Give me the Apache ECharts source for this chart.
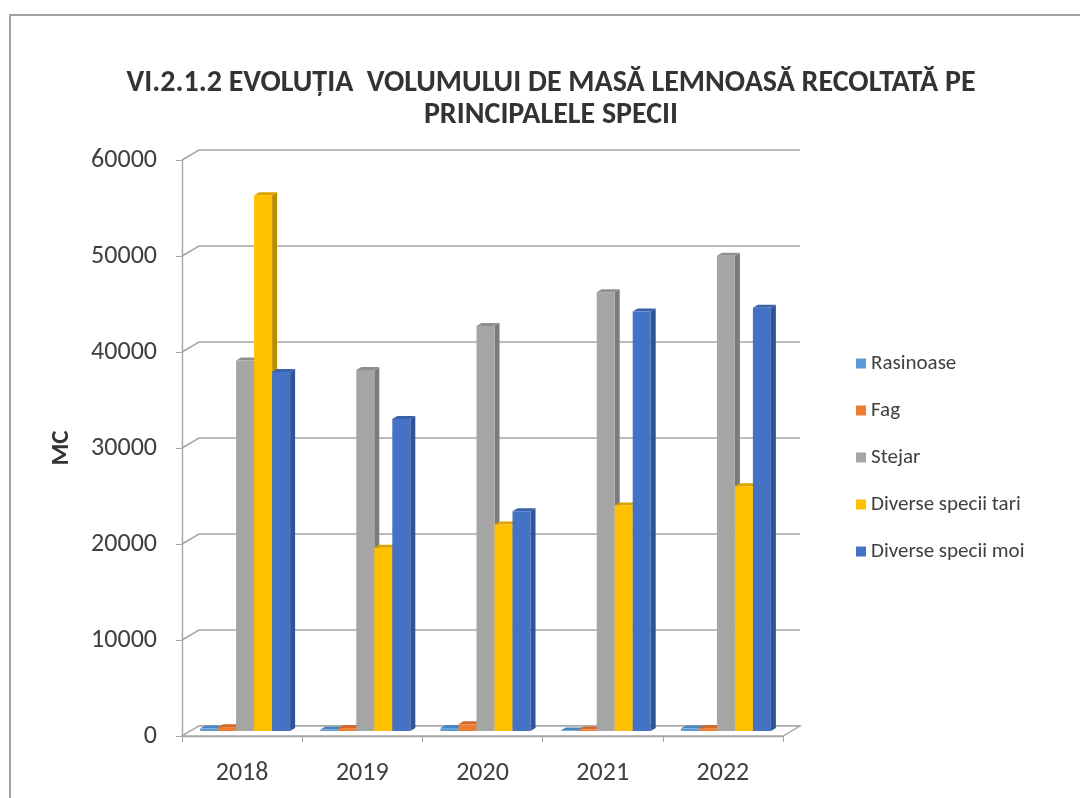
<!DOCTYPE html>
<html>
<head>
<meta charset="utf-8">
<script src="https://cdn.jsdelivr.net/npm/echarts@6/dist/echarts.min.js"></script>
<style>
  html, body { margin: 0; padding: 0; background: #fff; }
  #chart { width: 1080px; height: 798px; }
</style>
</head>
<body>
<div id="chart"></div>
<script>
// date (mc)
var categories = ['2018', '2019', '2020', '2021', '2022'];
var seriesNames = ['Rasinoase', 'Fag', 'Stejar', 'Diverse specii tari', 'Diverse specii moi'];
var rasinoase = [250, 150, 300, 50, 250];
var fag = [400, 300, 700, 150, 300];
var stejar = [38600, 37600, 42200, 45700, 49500];
var speciiTari = [55800, 19100, 21500, 23500, 25500];
var speciiMoi = [37400, 32500, 22900, 43700, 44100];
var yTicks = [0, 10000, 20000, 30000, 40000, 50000, 60000];

var culori = ['#5B9BD5', '#ED7D31', '#A5A5A5', '#FFC000', '#4472C4'];
var laterale = ['#41719C', '#AE5A21', '#7B7B7B', '#BC8C00', '#2F5597'];
var capace = ['#4A86BE', '#D0692A', '#8F8F8F', '#D9A400', '#3A62AA'];

var font = 'Carlito, Lato, "Open Sans", sans-serif';
var depthX = 17, depthY = 10;

var myChart = echarts.init(document.getElementById('chart'));

// bara "3D": fata, lateral si capac
function barRender(s) {
    return function (params, api) {
        var i = api.value(0), v = api.value(1);
        var base = api.coord([i, 0]);
        var top = api.coord([i, v]);
        var w = 18, d = 5, e = 3;
        var x0 = base[0] - 5 * w / 2 + s * w + 3;
        var yb = base[1] - 5, yt = top[1] - 5;
        return {
            type: 'group',
            children: [
                { type: 'polygon', shape: { points: [[x0 + w, yt], [x0 + w + d, yt - e], [x0 + w + d, yb - e], [x0 + w, yb]] }, style: { fill: laterale[s] } },
                { type: 'polygon', shape: { points: [[x0, yt], [x0 + w, yt], [x0 + w + d, yt - e], [x0 + d, yt - e]] }, style: { fill: capace[s] } },
                { type: 'rect', shape: { x: x0, y: yt, width: w, height: yb - yt }, style: { fill: culori[s] } }
            ]
        };
    };
}

// liniile de grila pe peretele din spate + podeaua
function gridRender(params, api) {
    var v = api.value(1);
    var band = api.size([1, 0])[0];
    var p0 = api.coord([0, v]);
    var p4 = api.coord([categories.length - 1, v]);
    var left = p0[0] - band / 2, right = p4[0] + band / 2, y = p0[1];
    var children = [{
        type: 'polyline',
        shape: { points: [[left, y], [left + depthX, y - depthY], [right + depthX, y - depthY]] },
        style: { stroke: '#a6a6a6', lineWidth: 1.6, fill: null }
    }];
    if (v === 0) {
        children.push({
            type: 'polygon',
            shape: { points: [[left, y], [right, y], [right + depthX, y - depthY], [left + depthX, y - depthY]] },
            style: { stroke: '#a6a6a6', lineWidth: 1.4, fill: '#fff' }
        });
    }
    return { type: 'group', children: children };
}

var valori = [rasinoase, fag, stejar, speciiTari, speciiMoi];
var series = [{
    name: 'grila',
    type: 'custom',
    silent: true,
    z: 1,
    renderItem: gridRender,
    data: yTicks.map(function (t) { return [0, t]; }),
    encode: { x: 0, y: 1 }
}];
valori.forEach(function (arr, s) {
    series.push({
        name: seriesNames[s],
        type: 'custom',
        z: 3,
        itemStyle: { color: culori[s] },
        renderItem: barRender(s),
        data: arr.map(function (v, i) { return [i, v]; }),
        encode: { x: 0, y: 1 }
    });
});

var option = {
    animation: false,
    backgroundColor: '#fff',
    title: {
        text: 'VI.2.1.2 EVOLUȚIA  VOLUMULUI DE MASĂ LEMNOASĂ RECOLTATĂ PE\nPRINCIPALELE SPECII',
        left: 546,
        top: 62,
        textAlign: 'center',
        textStyle: { fontFamily: font, fontSize: 30, fontWeight: 'bold', color: '#333', lineHeight: 32 }
    },
    legend: {
        orient: 'vertical',
        left: 851,
        top: 347,
        itemWidth: 10,
        itemHeight: 10,
        itemGap: 24,
        icon: 'rect',
        data: seriesNames,
        textStyle: { fontFamily: font, fontSize: 21, color: '#404040', lineHeight: 23 }
    },
    grid: { left: 182, right: 297, top: 160, bottom: 62 },
    xAxis: {
        type: 'category',
        data: categories,
        axisLine: { lineStyle: { color: '#a6a6a6', width: 1.4 } },
        axisTick: { show: true, length: 6, lineStyle: { color: '#a6a6a6' } },
        axisLabel: { margin: 24, fontFamily: font, fontSize: 26, color: '#404040' }
    },
    yAxis: {
        type: 'value',
        min: 0,
        max: 60000,
        interval: 10000,
        name: 'MC',
        nameLocation: 'middle',
        nameRotate: 90,
        nameGap: 108,
        nameTextStyle: { fontFamily: font, fontSize: 25, fontWeight: 'bold', color: '#333' },
        axisLine: { show: true, lineStyle: { color: '#a6a6a6', width: 1.4 } },
        axisTick: { show: true, length: 6, lineStyle: { color: '#a6a6a6' } },
        splitLine: { show: false },
        axisLabel: {
            margin: 25, fontFamily: font, fontSize: 26, color: '#404040',
            formatter: function (v) { return String(v); }
        }
    },
    graphic: [{
        type: 'rect',
        silent: true,
        z: -10,
        shape: { x: 10, y: 15, width: 1100, height: 820 },
        style: { fill: null, stroke: '#a0a0a0', lineWidth: 2 }
    }],
    series: series
};

myChart.setOption(option);
</script>
</body>
</html>
